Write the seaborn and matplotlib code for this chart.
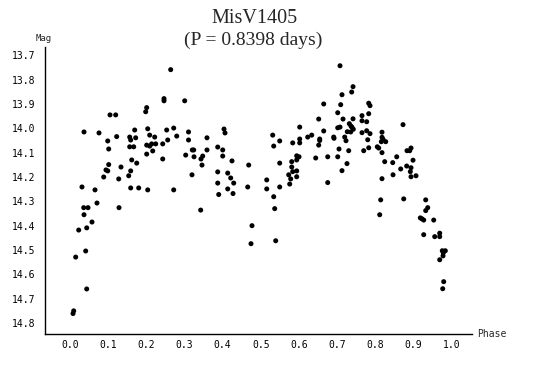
import matplotlib
matplotlib.use("Agg")
import matplotlib.pyplot as plt
import seaborn as sns
import pandas as pd

phase = [
    0.2638, 0.2463, 0.2463, 0.3005, 0.2009, 0.1983, 0.1048, 0.1197, 0.0367, 0.0760,
    0.1695, 0.2036, 0.2533, 0.2717, 0.3105, 0.0988, 0.1223, 0.1564, 0.1590, 0.1721,
    0.2088, 0.2219, 0.2560, 0.2796, 0.3105, 0.1014, 0.1564, 0.1669, 0.2009, 0.2088,
    0.2140, 0.2245, 0.2429, 0.2009, 0.2167, 0.2429, 0.3031, 0.1617, 0.1748, 0.1014,
    0.0943, 0.0988, 0.1336, 0.0883, 0.1276, 0.1538, 0.1590, 0.0314, 0.0655, 0.1590,
    0.1800, 0.2036, 0.2717, 0.0707, 0.0359, 0.0472, 0.1284, 0.0367, 0.0576, 0.0228,
    0.0438, 0.0411, 0.0149, 0.0438, 0.0097, 0.0079,
    0.3204, 0.3241, 0.3249, 0.3589, 0.3589, 0.3432, 0.3477, 0.3458, 0.3196, 0.3870,
    0.4035, 0.4061, 0.4001, 0.4001, 0.4244, 0.3870, 0.4132, 0.4210, 0.4289, 0.3870,
    0.4132, 0.3896, 0.4271, 0.4682, 0.4656, 0.5154, 0.5154, 0.5494, 0.5311, 0.5337,
    0.5494, 0.5494, 0.5835, 0.6018, 0.6018, 0.6018, 0.6228, 0.6333, 0.6516, 0.6647,
    0.6647, 0.6542, 0.6516, 0.6437, 0.6752, 0.6752, 0.5939, 0.6000, 0.5939, 0.5809,
    0.5809, 0.5835, 0.5730, 0.5939, 0.5939, 0.5782, 0.5756, 0.3424, 0.5337, 0.5363,
    0.4768, 0.4742, 0.5389,
    0.7074, 0.7415, 0.7380, 0.7126, 0.7092, 0.7826, 0.7860, 0.7014, 0.7826, 0.7153,
    0.7415, 0.7650, 0.7650, 0.7773, 0.7014, 0.7074, 0.7318, 0.7362, 0.7388, 0.7422,
    0.7354, 0.7265, 0.7650, 0.7773, 0.7860, 0.7197, 0.7231, 0.6909, 0.6917, 0.6542,
    0.7048, 0.7302, 0.7800, 0.7826, 0.7695, 0.8051, 0.8088, 0.8174, 0.8174, 0.8201,
    0.8271, 0.8156, 0.8174, 0.8725, 0.8245, 0.8455, 0.8560, 0.8829, 0.8900, 0.8934,
    0.8987, 0.8821, 0.8934, 0.8916, 0.8664, 0.8463, 0.8934, 0.9065, 0.8174, 0.7257,
    0.7126, 0.7014, 0.8140, 0.8743, 0.9319, 0.8114, 0.9372, 0.9319, 0.9178, 0.9222,
    0.9267, 0.9529, 0.9267, 0.9686, 0.9686, 0.9555, 0.9754, 0.9833, 0.9780, 0.9773,
    0.9686, 0.9791, 0.9765,
]

mag = [
    13.759, 13.878, 13.887, 13.887, 13.915, 13.932, 13.945, 13.945, 14.015, 14.019,
    14.007, 14.002, 14.007, 13.999, 14.015, 14.052, 14.034, 14.036, 14.048, 14.039,
    14.028, 14.036, 14.048, 14.032, 14.048, 14.085, 14.076, 14.076, 14.069, 14.073,
    14.064, 14.064, 14.064, 14.106, 14.093, 14.126, 14.110, 14.130, 14.143, 14.149,
    14.171, 14.175, 14.159, 14.200, 14.208, 14.195, 14.175, 14.241, 14.253, 14.245,
    14.245, 14.253, 14.253, 14.307, 14.326, 14.326, 14.326, 14.355, 14.385, 14.418,
    14.409, 14.504, 14.529, 14.660, 14.750, 14.761,
    14.089, 14.089, 14.117, 14.039, 14.089, 14.126, 14.114, 14.151, 14.191, 14.077,
    14.003, 14.019, 14.089, 14.114, 14.134, 14.179, 14.184, 14.204, 14.225, 14.225,
    14.249, 14.272, 14.268, 14.151, 14.241, 14.212, 14.249, 14.241, 14.028, 14.073,
    14.052, 14.143, 14.060, 13.995, 14.044, 14.060, 14.036, 14.028, 13.962, 13.900,
    14.011, 14.044, 14.069, 14.122, 14.117, 14.223, 14.113, 14.117, 14.130, 14.137,
    14.159, 14.178, 14.191, 14.175, 14.199, 14.208, 14.229, 14.336, 14.281, 14.330,
    14.400, 14.474, 14.462,
    13.743, 13.829, 13.851, 13.862, 13.903, 13.897, 13.907, 13.936, 13.940, 13.962,
    13.961, 13.948, 13.969, 13.973, 13.998, 13.995, 13.981, 13.991, 13.996, 14.004,
    14.015, 14.014, 14.018, 14.010, 14.022, 14.036, 14.051, 14.036, 14.041, 14.050,
    14.085, 14.092, 14.047, 14.080, 14.092, 14.076, 14.081, 14.016, 14.037, 14.045,
    14.055, 14.055, 14.100, 13.985, 14.137, 14.141, 14.117, 14.092, 14.092, 14.081,
    14.131, 14.155, 14.162, 14.178, 14.167, 14.191, 14.199, 14.195, 14.207, 14.145,
    14.174, 14.117, 14.294, 14.290, 14.294, 14.355, 14.326, 14.338, 14.368, 14.372,
    14.377, 14.377, 14.437, 14.431, 14.445, 14.445, 14.503, 14.503, 14.511, 14.524,
    14.540, 14.630, 14.659,
]

x_ticks = [0.0, 0.1, 0.2, 0.3, 0.4, 0.5, 0.6, 0.7, 0.8, 0.9, 1.0]
y_ticks = [13.7, 13.8, 13.9, 14.0, 14.1, 14.2, 14.3, 14.4, 14.5, 14.6, 14.7, 14.8]

df = pd.DataFrame({"Phase": phase, "Mag": mag})

sns.set_style("white")
plt.rcParams["font.family"] = ["DejaVu Sans Mono", "DejaVu Sans"]

W, H = 534, 370
fig = plt.figure(figsize=(W / 100, H / 100), dpi=100)
ax = fig.add_axes([45 / W, 1 - 334 / H, (472 - 45) / W, (334 - 47) / H])

sns.scatterplot(data=df, x="Phase", y="Mag", ax=ax, color="black", s=13,
                marker="o", edgecolor="none", linewidth=0)

ax.set_xlim(-0.0655, 1.0532)
ax.set_ylim(14.845, 13.666)
ax.set_xticks(x_ticks)
ax.set_xticklabels([f"{t:.1f}" for t in x_ticks])
ax.set_yticks(y_ticks)
ax.set_yticklabels([f"{t:.1f}" for t in y_ticks])
ax.set_xlabel("")
ax.set_ylabel("")

for s in ["top", "right"]:
    ax.spines[s].set_visible(False)
for s in ["left", "bottom"]:
    ax.spines[s].set_color("black")
    ax.spines[s].set_linewidth(1.0)

ax.tick_params(axis="both", direction="in", length=4, width=1, colors="black",
               labelsize=7)
ax.tick_params(axis="y", pad=7)
ax.tick_params(axis="x", pad=4)

fig.text(43.5 / W, 1 - 38.5 / H, "Mag", ha="center", va="center", fontsize=6.5,
         family="DejaVu Sans Mono")
fig.text(492 / W, 1 - 334 / H, "Phase", ha="center", va="center", fontsize=7,
         family="DejaVu Sans Mono")

fig.text(255 / W, 1 - 18.5 / H, "MisV1405", ha="center", va="center",
         fontsize=14.5, family="Liberation Serif")
fig.text(253 / W, 1 - 40.5 / H, "(P = 0.8398 days)", ha="center", va="center",
         fontsize=14, family="Liberation Serif")

fig.savefig("out.png", dpi=100, facecolor="white")
